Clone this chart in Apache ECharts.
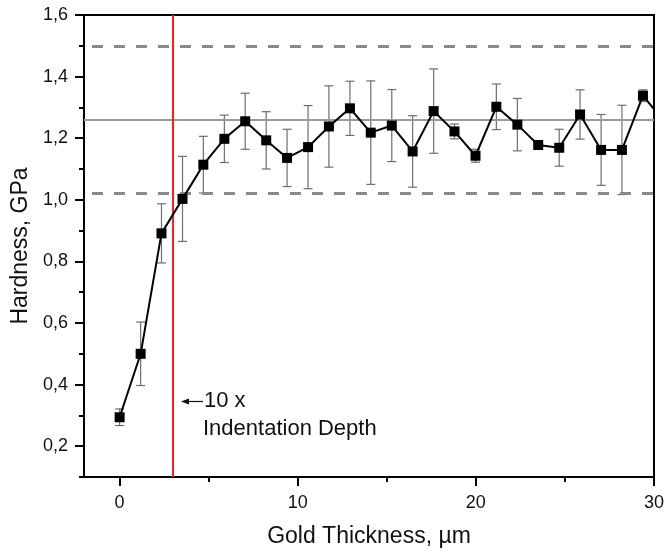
<!DOCTYPE html>
<html>
<head>
<meta charset="utf-8">
<title>Hardness vs Gold Thickness</title>
<script src="https://cdn.jsdelivr.net/npm/echarts@6/dist/echarts.min.js"></script>
<style>
  html, body { margin: 0; padding: 0; background: #fff; }
  #chart { width: 667px; height: 554px; }
</style>
</head>
<body>
<div id="chart"></div>
<script>
// Measured gold layer thickness (µm) and nanoindentation hardness (GPa)
const thickness = [0, 1.18, 2.35, 3.53, 4.70, 5.88, 7.05, 8.23, 9.40, 10.58, 11.75, 12.93, 14.10,
  15.28, 16.45, 17.63, 18.80, 19.98, 21.15, 22.33, 23.50, 24.68, 25.85, 27.03, 28.20, 29.38, 30.55];
const hardness = [0.294, 0.500, 0.891, 1.003, 1.114, 1.198, 1.255, 1.193, 1.136, 1.171, 1.238, 1.297, 1.218,
  1.241, 1.157, 1.288, 1.222, 1.143, 1.302, 1.244, 1.178, 1.169, 1.277, 1.162, 1.162, 1.338, 1.256];
// Standard deviation of each hardness value
const hardnessSd = [0.027, 0.103, 0.096, 0.138, 0.092, 0.077, 0.091, 0.093, 0.093, 0.135, 0.132, 0.088, 0.168,
  0.117, 0.116, 0.137, 0.024, 0.021, 0.074, 0.085, 0.012, 0.060, 0.080, 0.115, 0.145, 0.019, 0.030];

// Bulk hardness band and the 10x indentation-depth limit
const bulkMean = 1.26;
const bulkUpper = 1.50;
const bulkLower = 1.02;
const indentationLimit = 3;

// Axis ticks
const xMajorTicks = [0, 10, 20, 30];
const xMinorTicks = [5, 15, 25];
const yMajorTicks = [0.2, 0.4, 0.6, 0.8, 1.0, 1.2, 1.4, 1.6];
const yMinorTicks = [0.1, 0.3, 0.5, 0.7, 0.9, 1.1, 1.3, 1.5];

const FONT = '"Liberation Sans", Arial, sans-serif';

const points = thickness.map((t, i) => [t, hardness[i]]);
const errorData = thickness.map((t, i) => [t, hardness[i] - hardnessSd[i], hardness[i] + hardnessSd[i]]);

const chart = echarts.init(document.getElementById('chart'), null, { renderer: 'canvas' });

const axisBase = {
  type: 'value',
  axisLine: { show: true, onZero: false, lineStyle: { color: '#000', width: 2 } },
  splitLine: { show: false }
};
const hiddenLine = { show: false, onZero: false };
const tickStyle = { color: '#000', width: 2 };

chart.setOption({
  backgroundColor: '#fff',
  animation: false,
  grid: {
    left: 84, right: 11, top: 15, bottom: 77,
    show: true, borderColor: '#000', borderWidth: 2, backgroundColor: 'transparent'
  },
  xAxis: [
    Object.assign({}, axisBase, {
      min: -2, max: 30,
      name: 'Gold Thickness, µm',
      nameLocation: 'middle', nameGap: 48,
      nameTextStyle: { fontFamily: FONT, fontSize: 23, color: '#111' },
      axisTick: { show: true, customValues: xMajorTicks, length: 9, lineStyle: tickStyle },
      axisLabel: { customValues: xMajorTicks, margin: 17, fontFamily: FONT, fontSize: 18, color: '#111' }
    }),
    Object.assign({}, axisBase, {
      min: -2, max: 30, position: 'bottom',
      axisLine: hiddenLine,
      axisTick: { show: true, customValues: xMinorTicks, length: 5, lineStyle: tickStyle },
      axisLabel: { show: false }
    })
  ],
  yAxis: [
    Object.assign({}, axisBase, {
      min: 0.1, max: 1.6,
      name: 'Hardness, GPa',
      nameLocation: 'middle', nameGap: 52,
      nameTextStyle: { fontFamily: FONT, fontSize: 23, color: '#111' },
      axisTick: { show: true, customValues: yMajorTicks, length: 9, lineStyle: tickStyle },
      axisLabel: {
        customValues: yMajorTicks, margin: 16, fontFamily: FONT, fontSize: 18, color: '#111',
        formatter: v => v.toFixed(1).replace('.', ',')
      }
    }),
    Object.assign({}, axisBase, {
      min: 0.1, max: 1.6, position: 'left',
      axisLine: hiddenLine,
      axisTick: { show: true, customValues: yMinorTicks, length: 5, lineStyle: tickStyle },
      axisLabel: { show: false }
    })
  ],
  series: [
    {
      // bulk hardness reference band
      type: 'line',
      data: [],
      silent: true,
      z: 1,
      markLine: {
        silent: true,
        symbol: 'none',
        label: { show: false },
        data: [
          { yAxis: bulkUpper, lineStyle: { color: '#8a8a8a', width: 3, type: [11, 11], dashOffset: 14 } },
          { yAxis: bulkMean, lineStyle: { color: '#9a9a9a', width: 2, type: 'solid' } },
          { yAxis: bulkLower, lineStyle: { color: '#8a8a8a', width: 3, type: [11, 11], dashOffset: 14 } }
        ]
      }
    },
    {
      // error bars
      type: 'custom',
      data: errorData,
      clip: true,
      z: 2,
      encode: { x: 0, y: [1, 2] },
      renderItem: (params, api) => {
        const x = api.value(0);
        const top = api.coord([x, api.value(2)]);
        const bot = api.coord([x, api.value(1)]);
        const half = 4.5;
        const style = { stroke: '#6e6e6e', lineWidth: 1.2 };
        return {
          type: 'group',
          children: [
            { type: 'line', shape: { x1: top[0], y1: top[1], x2: bot[0], y2: bot[1] }, style },
            { type: 'line', shape: { x1: top[0] - half, y1: top[1], x2: top[0] + half, y2: top[1] }, style },
            { type: 'line', shape: { x1: bot[0] - half, y1: bot[1], x2: bot[0] + half, y2: bot[1] }, style }
          ]
        };
      }
    },
    {
      // indentation depth limit
      type: 'line',
      data: [],
      silent: true,
      z: 3,
      markLine: {
        silent: true,
        symbol: 'none',
        label: { show: false },
        data: [{ xAxis: indentationLimit, lineStyle: { color: '#ff1f1f', width: 2, type: 'solid' } }]
      }
    },
    {
      type: 'line',
      data: points,
      clip: true,
      z: 5,
      symbol: 'rect',
      symbolSize: 10,
      showAllSymbol: true,
      itemStyle: { color: '#000' },
      lineStyle: { color: '#000', width: 2 }
    }
  ],
  graphic: [
    {
      type: 'group',
      children: [
        { type: 'polygon', shape: { points: [[181, 401.5], [189, 398.5], [189, 404.5]] }, style: { fill: '#111' } },
        { type: 'line', shape: { x1: 187, y1: 401.5, x2: 203, y2: 401.5 }, style: { stroke: '#111', lineWidth: 1.2 } },
        { type: 'text', x: 204, y: 401, style: { text: '10 x', fontFamily: FONT, fontSize: 22, fill: '#111', verticalAlign: 'middle' } },
        { type: 'text', x: 203, y: 429, style: { text: 'Indentation Depth', fontFamily: FONT, fontSize: 22, fill: '#111', verticalAlign: 'middle' } }
      ]
    }
  ]
});
</script>
</body>
</html>
